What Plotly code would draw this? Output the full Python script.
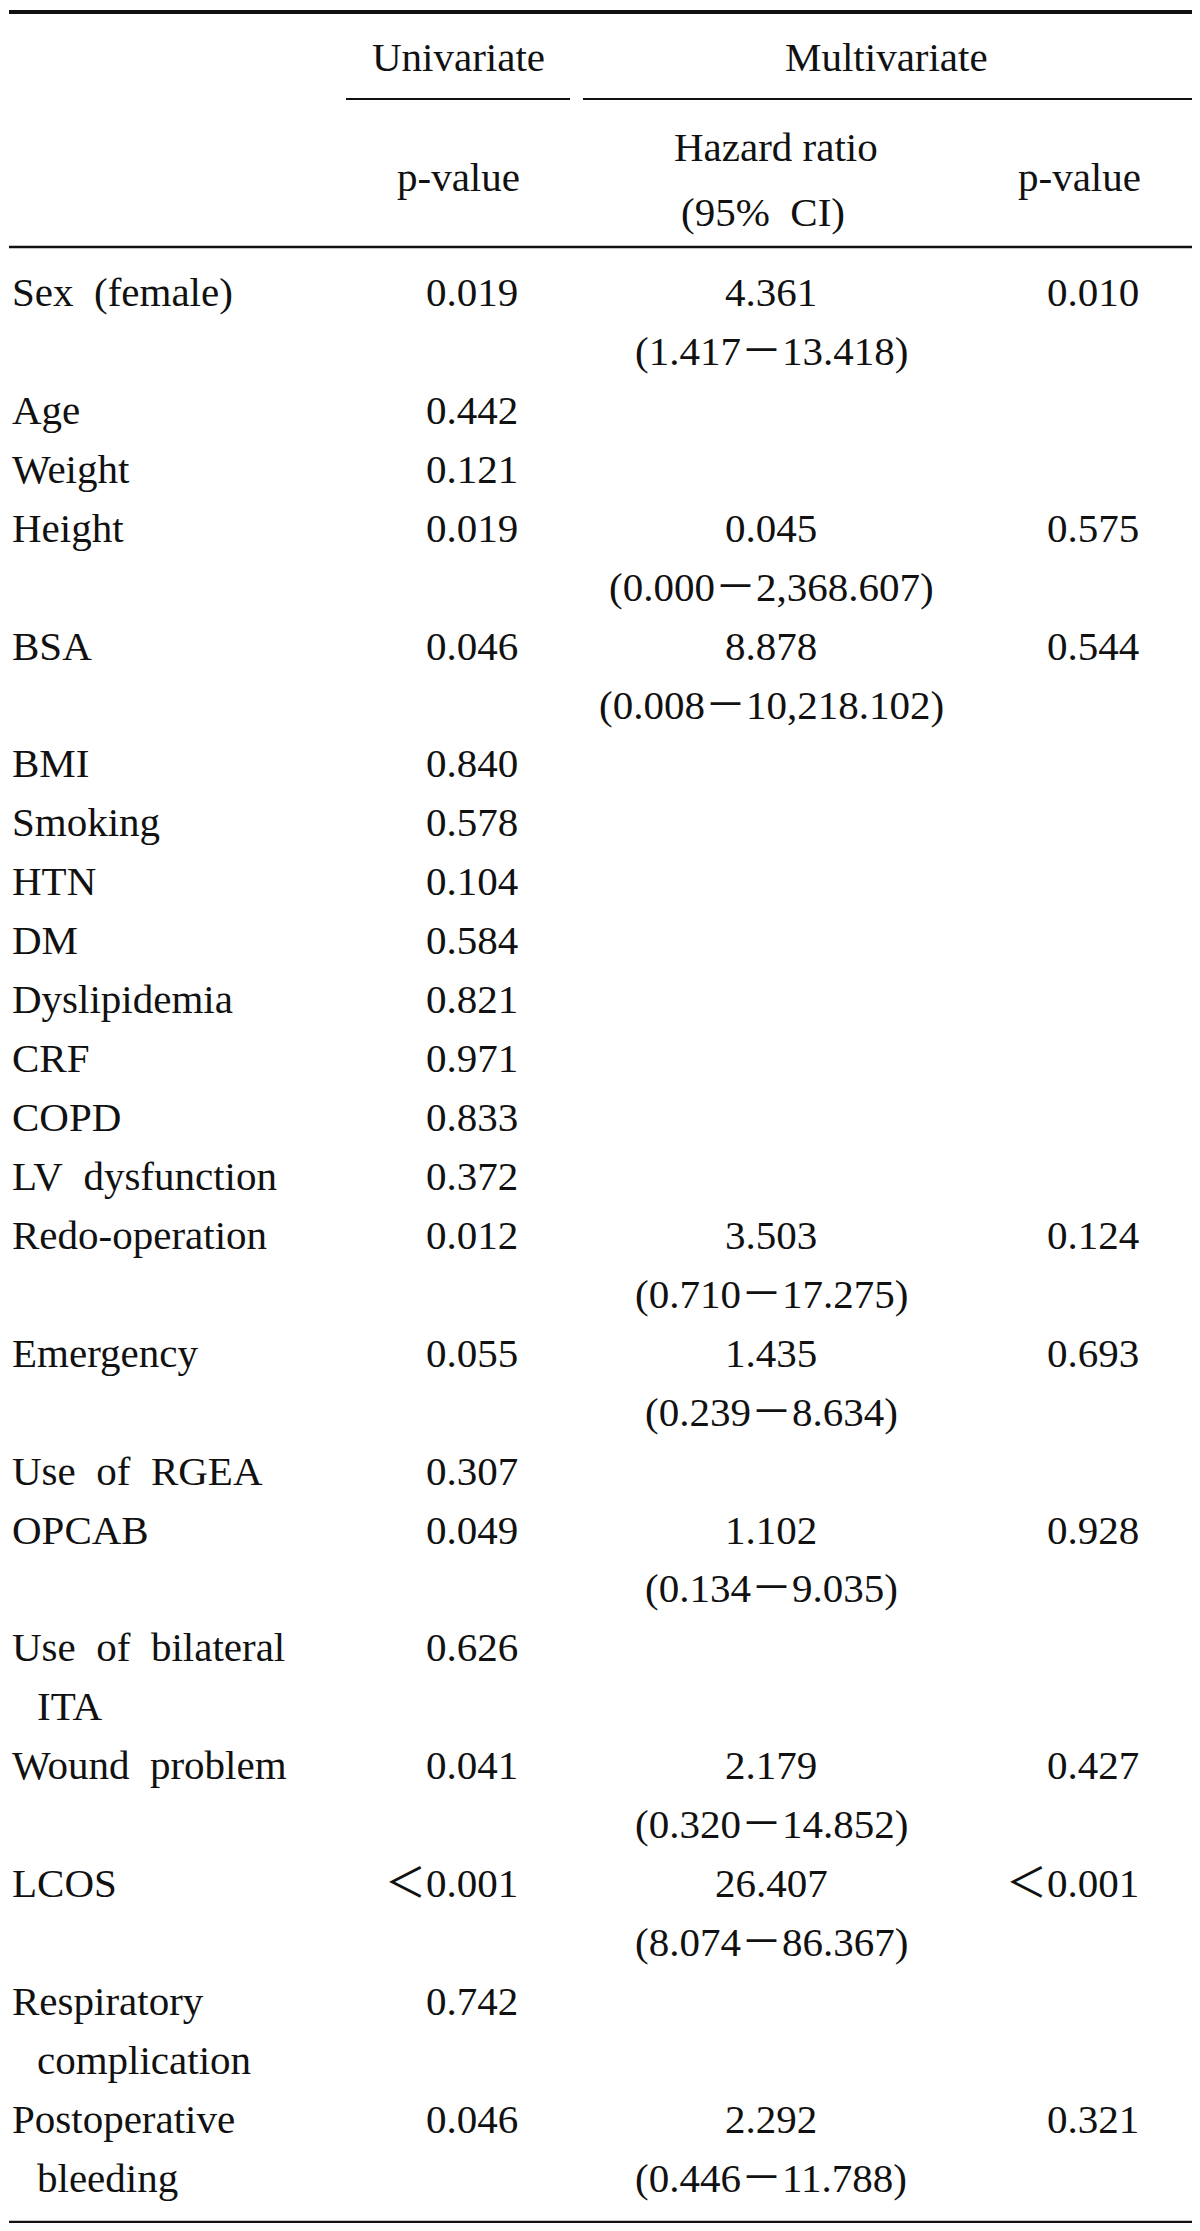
import plotly.graph_objects as go

# ---------------- data ----------------
NB = "\u00a0\u00a0"
variables = [
    ["Sex" + NB + "(female)"],
    ["Age"],
    ["Weight"],
    ["Height"],
    ["BSA"],
    ["BMI"],
    ["Smoking"],
    ["HTN"],
    ["DM"],
    ["Dyslipidemia"],
    ["CRF"],
    ["COPD"],
    ["LV" + NB + "dysfunction"],
    ["Redo-operation"],
    ["Emergency"],
    ["Use" + NB + "of" + NB + "RGEA"],
    ["OPCAB"],
    ["Use" + NB + "of" + NB + "bilateral", "ITA"],
    ["Wound" + NB + "problem"],
    ["LCOS"],
    ["Respiratory", "complication"],
    ["Postoperative", "bleeding"],
]
univariate_p = ["0.019", "0.442", "0.121", "0.019", "0.046", "0.840", "0.578", "0.104",
                "0.584", "0.821", "0.971", "0.833", "0.372", "0.012", "0.055", "0.307",
                "0.049", "0.626", "0.041", "＜0.001", "0.742", "0.046"]
hazard_ratio = ["4.361", "", "", "0.045", "8.878", "", "", "", "", "", "", "", "",
                "3.503", "1.435", "", "1.102", "", "2.179", "26.407", "", "2.292"]
ci_95 = ["(1.417－13.418)", "", "", "(0.000－2,368.607)", "(0.008－10,218.102)", "", "", "",
         "", "", "", "", "", "(0.710－17.275)", "(0.239－8.634)", "", "(0.134－9.035)", "",
         "(0.320－14.852)", "(8.074－86.367)", "", "(0.446－11.788)"]
multivariate_p = ["0.010", "", "", "0.575", "0.544", "", "", "", "", "", "", "", "",
                  "0.124", "0.693", "", "0.928", "", "0.427", "＜0.001", "", "0.321"]

header_top = ["Univariate", "Multivariate"]
header_sub = ["p-value", "Hazard ratio", "(95%" + NB + "CI)", "p-value"]

# ---------------- layout constants ----------------
W, H = 1200, 2231
BODY = 8  # default page body margin in the written html
FONT = "Liberation Serif, 'Noto Sans CJK KR', serif"
FS = 41
COLOR = "#111111"
Y0 = 292.0
DY = 58.93
X_LABEL = 10
X_INDENT = 35
X_UNI = 520
X_HR = 771
X_MULTI = 1141

fig = go.Figure()
fig.add_trace(go.Scatter(x=[BODY, W], y=[BODY, H], mode="markers",
                         marker=dict(opacity=0), hoverinfo="skip", showlegend=False))

ann = []


def txt(x, y, s, xa):
    ann.append(dict(x=x, y=y, xref="x", yref="y", text=s, showarrow=False,
                    xanchor=xa, yanchor="middle",
                    font=dict(family=FONT, size=FS, color=COLOR)))


# headers
txt(458, 57, header_top[0], "center")
txt(886, 57, header_top[1], "center")
txt(458, 177, header_sub[0], "center")
txt(776, 147, header_sub[1], "center")
txt(763, 212, header_sub[2], "center")
txt(1079, 177, header_sub[3], "center")

line = 0
for i, lab in enumerate(variables):
    y = Y0 + line * DY
    txt(X_LABEL, y, lab[0], "left")
    if len(lab) > 1:
        txt(X_INDENT, y + DY, lab[1], "left")
    txt(X_UNI, y, univariate_p[i], "right")
    if hazard_ratio[i]:
        txt(X_HR, y, hazard_ratio[i], "center")
    if ci_95[i]:
        txt(X_HR, y + DY, ci_95[i], "center")
    if multivariate_p[i]:
        txt(X_MULTI, y, multivariate_p[i], "right")
    nlines = max(len(lab), 2 if ci_95[i] else 1)
    line += nlines

shapes = [
    dict(type="line", x0=9, x1=1192, y0=12, y1=12, line=dict(color=COLOR, width=4)),
    dict(type="line", x0=346, x1=570, y0=99, y1=99, line=dict(color=COLOR, width=2)),
    dict(type="line", x0=583, x1=1192, y0=99, y1=99, line=dict(color=COLOR, width=2)),
    dict(type="line", x0=9, x1=1192, y0=247, y1=247, line=dict(color=COLOR, width=2.5)),
    dict(type="line", x0=9, x1=1192, y0=2222, y1=2222, line=dict(color=COLOR, width=2.5)),
]
for s in shapes:
    s.update(xref="x", yref="y")

fig.update_layout(
    width=W - BODY, height=H - 2 * BODY,
    margin=dict(l=0, r=0, t=0, b=0),
    paper_bgcolor="white", plot_bgcolor="white",
    xaxis=dict(range=[BODY, W], visible=False, fixedrange=True),
    yaxis=dict(range=[H - BODY, BODY], visible=False, fixedrange=True),
    annotations=ann, shapes=shapes, showlegend=False,
)
fig.write_html("out.html")
